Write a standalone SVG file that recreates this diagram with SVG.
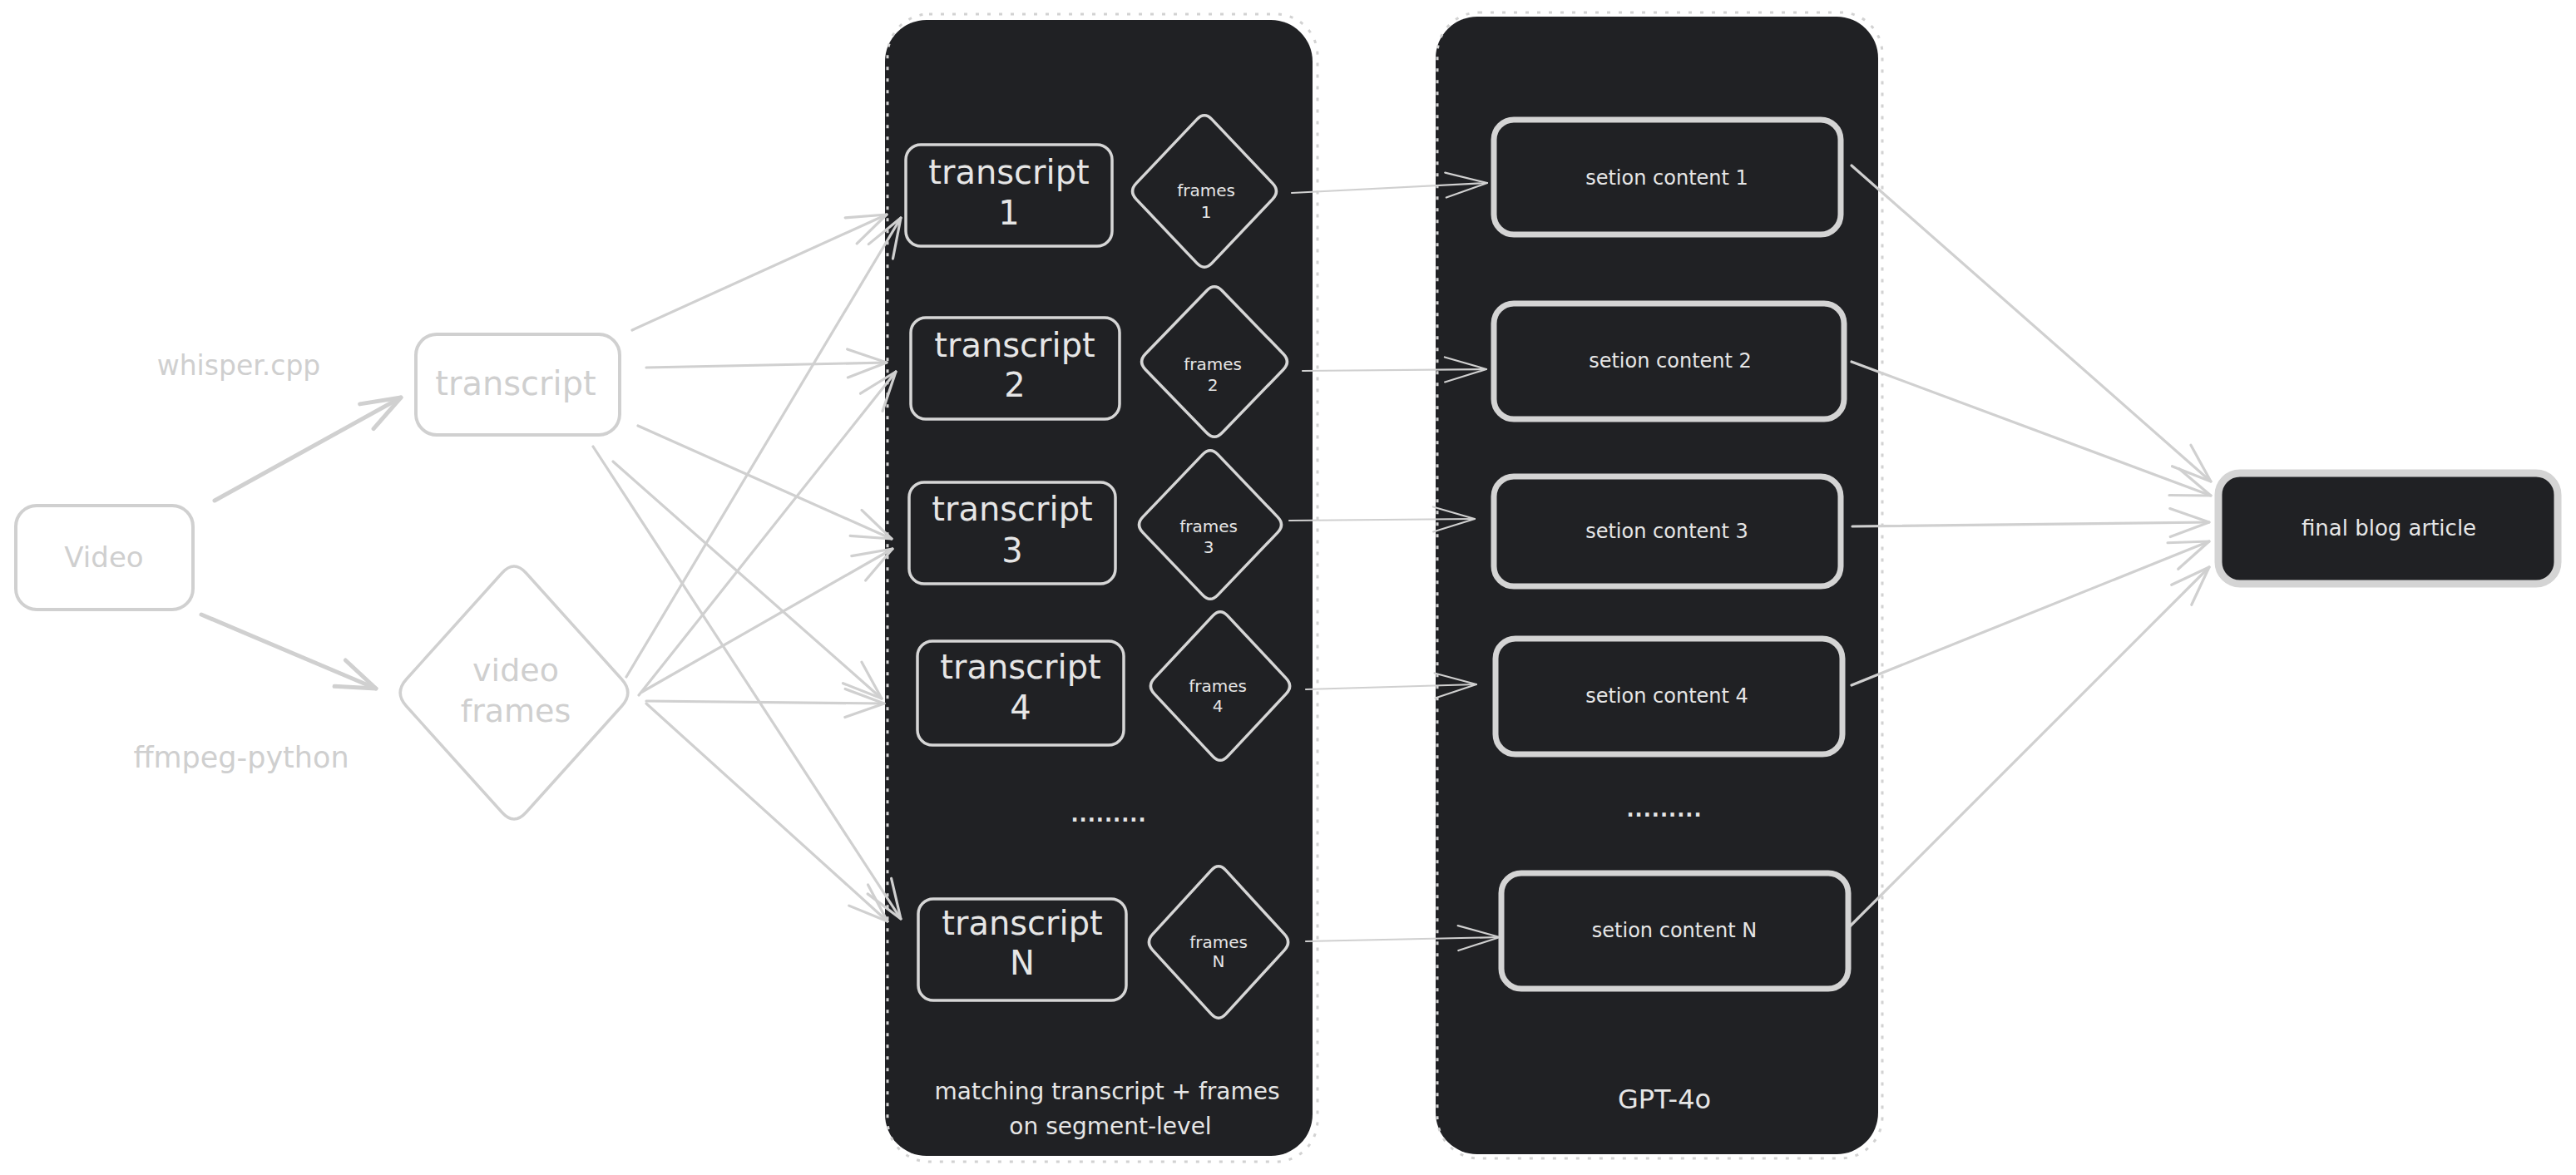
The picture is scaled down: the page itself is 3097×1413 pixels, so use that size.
<svg xmlns="http://www.w3.org/2000/svg" width="3097" height="1413" viewBox="0 0 3097 1413">
<style>
  .bg { fill:#ffffff; }
  .panel { fill:#202124; stroke:none; }
  .dots { fill:none; stroke:#d2d2d2; stroke-width:3; stroke-dasharray:4 10; }
  .lnode { fill:#ffffff; stroke:#d0d0d0; stroke-width:4; }
  .tbox { fill:#202124; stroke:#d6d6d6; stroke-width:3.5; }
  .sbox { fill:#202124; stroke:#d4d4d4; stroke-width:7; }
  .fbox { fill:#202124; stroke:#d4d4d4; stroke-width:9; }
  .dia { fill:#202124; stroke:#d6d6d6; stroke-width:3.5; stroke-linejoin:round; }
  .ldia { fill:#ffffff; stroke:#d0d0d0; stroke-width:3.5; stroke-linejoin:round; }
  .c { fill:none; stroke:#d0d0d0; stroke-linecap:round; }
  .c5 { stroke-width:5; }
  .c3 { stroke-width:3.2; }
  .c2 { stroke-width:2.2; }
  text { font-family:"DejaVu Sans", "Liberation Sans", sans-serif; text-anchor:middle; }
  .lt { fill:#cfcfcf; }
  .wt { fill:#e6e6e6; }
  .ell { font-weight:bold; letter-spacing:1px; }
</style>
<defs>
  <marker id="ah5" markerUnits="userSpaceOnUse" markerWidth="70" markerHeight="60" viewBox="-60 -30 70 60" refX="0" refY="0" orient="auto" overflow="visible">
    <path d="M -47 -17 L 0 0 L -47 17" fill="none" stroke="#d0d0d0" stroke-width="5" stroke-linecap="round" stroke-linejoin="round"/>
  </marker>
  <marker id="ah3" markerUnits="userSpaceOnUse" markerWidth="70" markerHeight="60" viewBox="-60 -30 70 60" refX="0" refY="0" orient="auto" overflow="visible">
    <path d="M -47 -17 L 0 0 L -47 17" fill="none" stroke="#d0d0d0" stroke-width="3.2" stroke-linecap="round" stroke-linejoin="round"/>
  </marker>
  <marker id="ah2" markerUnits="userSpaceOnUse" markerWidth="70" markerHeight="60" viewBox="-60 -30 70 60" refX="0" refY="0" orient="auto" overflow="visible">
    <path d="M -50 -15 L 0 0 L -50 15" fill="none" stroke="#d0d0d0" stroke-width="2.2" stroke-linecap="round" stroke-linejoin="round"/>
  </marker>
</defs>
<rect class="bg" x="0" y="0" width="3097" height="1413"/>

<g id="panel-matching">
  <rect class="panel" x="1064" y="24" width="514" height="1366" rx="50"/>
  <rect class="dots" x="1067" y="17" width="517" height="1380" rx="50"/>
  <text class="wt" x="1331" y="1322" font-size="28">matching transcript + frames</text>
  <text class="wt" x="1335" y="1364" font-size="28">on segment-level</text>
  <text class="wt ell" x="1333" y="988" font-size="24">.........</text>
</g>
<g id="panel-gpt">
  <rect class="panel" x="1726" y="20" width="532" height="1368" rx="50"/>
  <rect class="dots" x="1728" y="15" width="535" height="1378" rx="50"/>
  <text class="wt" x="2001" y="1333" font-size="32">GPT-4o</text>
  <text class="wt ell" x="2001" y="982" font-size="24">.........</text>
</g>

<g id="label-whisper"><text class="lt" x="287" y="451" font-size="33">whisper.cpp</text></g>
<g id="label-ffmpeg"><text class="lt" x="290" y="923" font-size="35">ffmpeg-python</text></g>

<g id="connectors">
  <line class="c c5" x1="258" y1="602" x2="482" y2="478" marker-end="url(#ah5)"/>
  <line class="c c5" x1="242" y1="739" x2="452" y2="828" marker-end="url(#ah5)"/>

  <line class="c c3" x1="760" y1="397" x2="1066" y2="258" marker-end="url(#ah3)"/>
  <line class="c c3" x1="777" y1="442" x2="1066" y2="436" marker-end="url(#ah3)"/>
  <line class="c c3" x1="767" y1="512" x2="1072" y2="648" marker-end="url(#ah3)"/>
  <line class="c c3" x1="737" y1="555" x2="1060" y2="840" marker-end="url(#ah3)"/>
  <line class="c c3" x1="713" y1="537" x2="1083" y2="1105" marker-end="url(#ah3)"/>

  <line class="c c3" x1="753" y1="814" x2="1083" y2="262" marker-end="url(#ah3)"/>
  <line class="c c3" x1="768" y1="836" x2="1077" y2="447" marker-end="url(#ah3)"/>
  <line class="c c3" x1="772" y1="832" x2="1073" y2="660" marker-end="url(#ah3)"/>
  <line class="c c3" x1="777" y1="843" x2="1063" y2="846" marker-end="url(#ah3)"/>
  <line class="c c3" x1="777" y1="846" x2="1067" y2="1108" marker-end="url(#ah3)"/>

  <line class="c c2" x1="1553" y1="232" x2="1788" y2="220" marker-end="url(#ah2)"/>
  <line class="c c2" x1="1566" y1="446" x2="1787" y2="444" marker-end="url(#ah2)"/>
  <line class="c c2" x1="1550" y1="626" x2="1773" y2="624" marker-end="url(#ah2)"/>
  <line class="c c2" x1="1570" y1="829" x2="1775" y2="823" marker-end="url(#ah2)"/>
  <line class="c c2" x1="1570" y1="1132" x2="1803" y2="1127" marker-end="url(#ah2)"/>

  <line class="c c3" x1="2226" y1="199" x2="2658" y2="579" marker-end="url(#ah3)"/>
  <line class="c c3" x1="2226" y1="435" x2="2658" y2="596" marker-end="url(#ah3)"/>
  <line class="c c3" x1="2227" y1="633" x2="2656" y2="628" marker-end="url(#ah3)"/>
  <line class="c c3" x1="2226" y1="824" x2="2656" y2="651" marker-end="url(#ah3)"/>
  <line class="c c3" x1="2222" y1="1116" x2="2656" y2="682" marker-end="url(#ah3)"/>
</g>

<g id="node-video">
  <rect class="lnode" x="19" y="608" width="213" height="125" rx="25"/>
  <text class="lt" x="125" y="682" font-size="34">Video</text>
</g>
<g id="node-transcript">
  <rect class="lnode" x="500" y="402" width="245" height="121" rx="25"/>
  <text class="lt" x="620" y="475" font-size="40">transcript</text>
</g>
<g id="node-video-frames">
  <path class="ldia" d="M 632.4 689 l 115.2 128 q 14.4 16 0 32 l -115.2 128 q -14.4 16 -28.8 0 l -115.2 -128 q -14.4 -16 0 -32 l 115.2 -128 q 14.4 -16 28.8 0 z"/>
  <text class="lt" x="620" y="819" font-size="38">video</text>
  <text class="lt" x="620" y="868" font-size="38">frames</text>
</g>

<g id="node-transcript-1">
  <rect class="tbox" x="1089" y="174" width="248" height="122" rx="18"/>
  <text class="wt" x="1213" y="221" font-size="40">transcript</text>
  <text class="wt" x="1213" y="270" font-size="40">1</text>
</g>
<g id="node-transcript-2">
  <rect class="tbox" x="1095" y="382" width="251" height="122" rx="18"/>
  <text class="wt" x="1220" y="429" font-size="40">transcript</text>
  <text class="wt" x="1220" y="477" font-size="40">2</text>
</g>
<g id="node-transcript-3">
  <rect class="tbox" x="1093" y="580" width="248" height="122" rx="18"/>
  <text class="wt" x="1217" y="626" font-size="40">transcript</text>
  <text class="wt" x="1217" y="676" font-size="40">3</text>
</g>
<g id="node-transcript-4">
  <rect class="tbox" x="1103" y="771" width="248" height="125" rx="18"/>
  <text class="wt" x="1227" y="816" font-size="40">transcript</text>
  <text class="wt" x="1227" y="865" font-size="40">4</text>
</g>
<g id="node-transcript-n">
  <rect class="tbox" x="1104" y="1081" width="250" height="122" rx="18"/>
  <text class="wt" x="1229" y="1124" font-size="40">transcript</text>
  <text class="wt" x="1229" y="1172" font-size="40">N</text>
</g>

<g id="node-frames-1">
  <path class="dia" d="M 1457.1 143.6 l 72.8 76.8 q 9.1 9.6 0 19.2 l -72.8 76.8 q -9.1 9.6 -18.2 0 l -72.8 -76.8 q -9.1 -9.6 0 -19.2 l 72.8 -76.8 q 9.1 -9.6 18.2 0 z"/>
  <text class="wt" x="1450" y="236" font-size="20">frames</text>
  <text class="wt" x="1450" y="262" font-size="20">1</text>
</g>
<g id="node-frames-2">
  <path class="dia" d="M 1469.2 349.5 l 73.6 76 q 9.2 9.5 0 19 l -73.6 76 q -9.2 9.5 -18.4 0 l -73.6 -76 q -9.2 -9.5 0 -19 l 73.6 -76 q 9.2 -9.5 18.4 0 z"/>
  <text class="wt" x="1458" y="445" font-size="20">frames</text>
  <text class="wt" x="1458" y="470" font-size="20">2</text>
</g>
<g id="node-frames-3">
  <path class="dia" d="M 1464 546.4 l 72 75.2 q 9 9.4 0 18.8 l -72 75.2 q -9 9.4 -18 0 l -72 -75.2 q -9 -9.4 0 -18.8 l 72 -75.2 q 9 -9.4 18 0 z"/>
  <text class="wt" x="1453" y="640" font-size="20">frames</text>
  <text class="wt" x="1453" y="665" font-size="20">3</text>
</g>
<g id="node-frames-4">
  <path class="dia" d="M 1475.8 740.4 l 70.4 75.2 q 8.8 9.4 0 18.8 l -70.4 75.2 q -8.8 9.4 -17.6 0 l -70.4 -75.2 q -8.8 -9.4 0 -18.8 l 70.4 -75.2 q 8.8 -9.4 17.6 0 z"/>
  <text class="wt" x="1464" y="832" font-size="20">frames</text>
  <text class="wt" x="1464" y="856" font-size="20">4</text>
</g>
<g id="node-frames-n">
  <path class="dia" d="M 1473.8 1046.6 l 70.4 76.8 q 8.8 9.6 0 19.2 l -70.4 76.8 q -8.8 9.6 -17.6 0 l -70.4 -76.8 q -8.8 -9.6 0 -19.2 l 70.4 -76.8 q 8.8 -9.6 17.6 0 z"/>
  <text class="wt" x="1465" y="1140" font-size="20">frames</text>
  <text class="wt" x="1465" y="1163" font-size="20">N</text>
</g>

<g id="node-section-1">
  <rect class="sbox" x="1796" y="144" width="417" height="138" rx="24"/>
  <text class="wt" x="2004" y="222" font-size="24">setion content 1</text>
</g>
<g id="node-section-2">
  <rect class="sbox" x="1796" y="365" width="421" height="139" rx="24"/>
  <text class="wt" x="2008" y="442" font-size="24">setion content 2</text>
</g>
<g id="node-section-3">
  <rect class="sbox" x="1796" y="573" width="417" height="132" rx="24"/>
  <text class="wt" x="2004" y="647" font-size="24">setion content 3</text>
</g>
<g id="node-section-4">
  <rect class="sbox" x="1798" y="768" width="417" height="139" rx="24"/>
  <text class="wt" x="2004" y="845" font-size="24">setion content 4</text>
</g>
<g id="node-section-n">
  <rect class="sbox" x="1805" y="1050" width="417" height="139" rx="24"/>
  <text class="wt" x="2013" y="1127" font-size="24">setion content N</text>
</g>

<g id="node-final">
  <rect class="fbox" x="2667" y="569" width="408" height="133" rx="26"/>
  <text class="wt" x="2872" y="644" font-size="26">final blog article</text>
</g>
</svg>
